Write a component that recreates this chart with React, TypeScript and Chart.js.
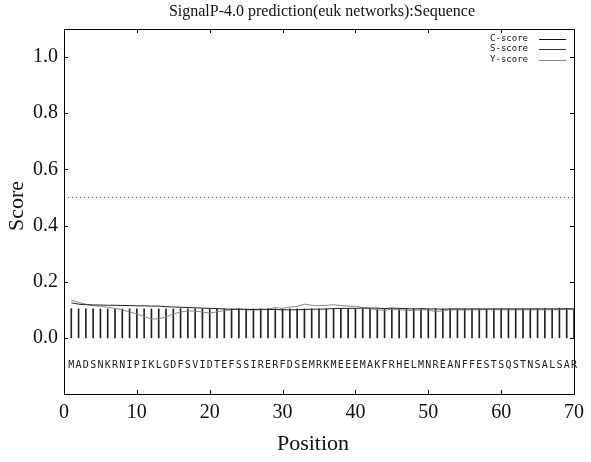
import React, { useEffect, useRef } from "react";
import { Chart, registerables } from "chart.js";

Chart.register(...registerables);

const TITLE = "SignalP-4.0 prediction(euk networks):Sequence";
const X_LABEL = "Position";
const Y_LABEL = "Score";
const SEQUENCE = "MADSNKRNIPIKLGDFSVIDTEFSSIRERFDSEMRKMEEEMAKFRHELMNREANFFESTSQSTNSALSAR";
const positions: number[] = Array.from({ length: 70 }, (_, i) => i + 1);

const cScore: number[] = [
  0.104, 0.103, 0.103, 0.103, 0.103, 0.103, 0.103, 0.103, 0.103, 0.103,
  0.103, 0.103, 0.103, 0.103, 0.103, 0.104, 0.103, 0.103, 0.103, 0.103,
  0.104, 0.103, 0.103, 0.103, 0.103, 0.103, 0.103, 0.104, 0.104, 0.103,
  0.103, 0.103, 0.103, 0.103, 0.103, 0.103, 0.104, 0.104, 0.104, 0.104,
  0.103, 0.103, 0.103, 0.103, 0.104, 0.104, 0.104, 0.104, 0.103, 0.103,
  0.103, 0.103, 0.103, 0.103, 0.103, 0.103, 0.103, 0.103, 0.103, 0.103,
  0.103, 0.103, 0.103, 0.103, 0.104, 0.105, 0.103, 0.106, 0.104, 0.103,
];

const sScore: number[] = [
  0.125, 0.12, 0.118, 0.117, 0.117, 0.116, 0.116, 0.115, 0.115, 0.114,
  0.114, 0.113, 0.113, 0.111, 0.11, 0.109, 0.108, 0.107, 0.106, 0.105,
  0.104, 0.103, 0.102, 0.102, 0.101, 0.101, 0.102, 0.101, 0.101, 0.1,
  0.1, 0.1, 0.101, 0.102, 0.102, 0.103, 0.104, 0.105, 0.105, 0.105,
  0.106, 0.106, 0.106, 0.104, 0.106, 0.105, 0.104, 0.103, 0.104, 0.103,
  0.103, 0.102, 0.103, 0.103, 0.103, 0.103, 0.103, 0.103, 0.103, 0.103,
  0.103, 0.103, 0.103, 0.103, 0.103, 0.103, 0.103, 0.103, 0.104, 0.103,
];

const yScore: number[] = [
  0.135, 0.126, 0.12, 0.115, 0.112, 0.109, 0.105, 0.099, 0.093, 0.085,
  0.076, 0.067, 0.068, 0.075, 0.085, 0.092, 0.096, 0.095, 0.092, 0.088,
  0.093, 0.097, 0.1, 0.104, 0.1, 0.099, 0.1, 0.102, 0.108, 0.105,
  0.11, 0.112, 0.12, 0.116, 0.114, 0.116, 0.118, 0.115, 0.113, 0.112,
  0.108, 0.104, 0.1, 0.098, 0.102, 0.1, 0.098, 0.097, 0.1, 0.099,
  0.094, 0.096, 0.1, 0.1, 0.099, 0.1, 0.1, 0.101, 0.1, 0.1,
  0.1, 0.1, 0.1, 0.1, 0.1, 0.1, 0.101, 0.1, 0.102, 0.1,
];

const CUTOFF = 0.5;
const X_TICKS: number[] = [0, 10, 20, 30, 40, 50, 60, 70];
const Y_TICKS: number[] = [0, 0.2, 0.4, 0.6, 0.8, 1.0];
const LEGEND_ITEMS = [
  { label: "C-score", color: "#111" },
  { label: "S-score", color: "#333" },
  { label: "Y-score", color: "#888" },
];

const decorPlugin = {
  id: "decor",
  afterDraw(chart: any) {
    const { ctx, chartArea } = chart;
    const xs = chart.scales.x;
    const ys = chart.scales.y;
    const { left, right, top, bottom } = chartArea;
    ctx.save();
    // frame
    ctx.strokeStyle = "#000";
    ctx.lineWidth = 1;
    ctx.strokeRect(Math.round(left) + 0.5, Math.round(top) + 0.5, Math.round(right - left), Math.round(bottom - top));
    // inward ticks
    ctx.beginPath();
    for (const v of Y_TICKS) {
      const py = Math.round(ys.getPixelForValue(v)) + 0.5;
      ctx.moveTo(left, py); ctx.lineTo(left + 4, py);
      ctx.moveTo(right, py); ctx.lineTo(right - 4, py);
    }
    for (const v of X_TICKS) {
      const px = Math.round(xs.getPixelForValue(v)) + 0.5;
      ctx.moveTo(px, bottom); ctx.lineTo(px, bottom - 4);
      ctx.moveTo(px, top); ctx.lineTo(px, top + 4);
    }
    ctx.stroke();
    // sequence letters
    ctx.fillStyle = "#222";
    ctx.font = "10px 'DejaVu Sans Mono', monospace";
    ctx.textAlign = "center";
    ctx.textBaseline = "middle";
    const seqY = ys.getPixelForValue(-0.097);
    for (let i = 0; i < SEQUENCE.length; i++) {
      ctx.fillText(SEQUENCE[i], xs.getPixelForValue(positions[i]), seqY);
    }
    // legend
    ctx.font = "9px 'DejaVu Sans Mono', monospace";
    ctx.textAlign = "right";
    LEGEND_ITEMS.forEach((it, i) => {
      const ly = 38.5 + i * 10.5;
      ctx.fillStyle = "#111";
      ctx.fillText(it.label, 528, ly);
      ctx.strokeStyle = it.color;
      ctx.beginPath();
      ctx.moveTo(539, Math.round(ly) + 0.5);
      ctx.lineTo(566, Math.round(ly) + 0.5);
      ctx.stroke();
    });
    // titles
    ctx.fillStyle = "#111";
    ctx.textAlign = "center";
    ctx.font = "16px 'Liberation Serif', serif";
    ctx.fillText(TITLE, 322, 12);
    ctx.font = "22px 'Liberation Serif', serif";
    ctx.fillText(X_LABEL, 313, 444);
    ctx.translate(17, 206);
    ctx.rotate(-Math.PI / 2);
    ctx.fillText(Y_LABEL, 0, 0);
    ctx.restore();
  },
};

export default function App() {
  const ref = useRef<HTMLCanvasElement | null>(null);
  useEffect(() => {
    if (!ref.current) return;
    const chart = new Chart(ref.current, {
      type: "line",
      data: {
        datasets: [
          {
            type: "line",
            label: "S-score",
            data: positions.map((p, i) => ({ x: p, y: sScore[i] })),
            borderColor: "#222",
            borderWidth: 1,
            pointRadius: 0,
            order: 1,
          },
          {
            type: "line",
            label: "Y-score",
            data: positions.map((p, i) => ({ x: p, y: yScore[i] })),
            borderColor: "#888",
            borderWidth: 1,
            pointRadius: 0,
            order: 2,
          },
          {
            type: "bar",
            label: "C-score",
            data: positions.map((p, i) => ({ x: p, y: cScore[i] })),
            backgroundColor: "#222",
            borderWidth: 0,
            barThickness: 1,
            order: 3,
          } as any,
          {
            type: "line",
            label: "cutoff",
            data: [{ x: 0, y: CUTOFF }, { x: 70, y: CUTOFF }],
            borderColor: "#555",
            borderWidth: 1,
            borderDash: [1, 3],
            pointRadius: 0,
            order: 4,
          },
        ],
      },
      options: {
        animation: false,
        responsive: false,
        layout: { padding: { top: 29, right: 15, left: 0, bottom: 0 } },
        plugins: { legend: { display: false }, tooltip: { enabled: false }, title: { display: false } },
        scales: {
          x: {
            type: "linear",
            min: 0,
            max: 70,
            offset: false,
            grid: { display: false, drawTicks: false },
            border: { display: false },
            afterFit: (s: any) => { s.height = 68; },
            afterBuildTicks: (s: any) => { s.ticks = X_TICKS.map((v) => ({ value: v })); },
            ticks: {
              padding: 7,
              color: "#111",
              font: { family: "'Liberation Serif', serif", size: 20 },
              maxRotation: 0,
              callback: (v: any) => String(v),
            },
          },
          y: {
            type: "linear",
            min: -0.2,
            max: 1.1,
            grid: { display: false, drawTicks: false },
            border: { display: false },
            afterFit: (s: any) => { s.width = 64; },
            afterBuildTicks: (s: any) => { s.ticks = Y_TICKS.map((v) => ({ value: v })); },
            ticks: {
              padding: 6,
              color: "#111",
              font: { family: "'Liberation Serif', serif", size: 20 },
              callback: (v: any) => Number(v).toFixed(1),
            },
          },
        },
      },
      plugins: [decorPlugin],
    });
    return () => chart.destroy();
  }, []);
  return (
    <div style={{ position: "absolute", left: 0, top: 0, width: 591, height: 462, background: "#fff" }}>
      <canvas ref={ref} width={591} height={462} style={{ width: 591, height: 462 }} />
    </div>
  );
}
